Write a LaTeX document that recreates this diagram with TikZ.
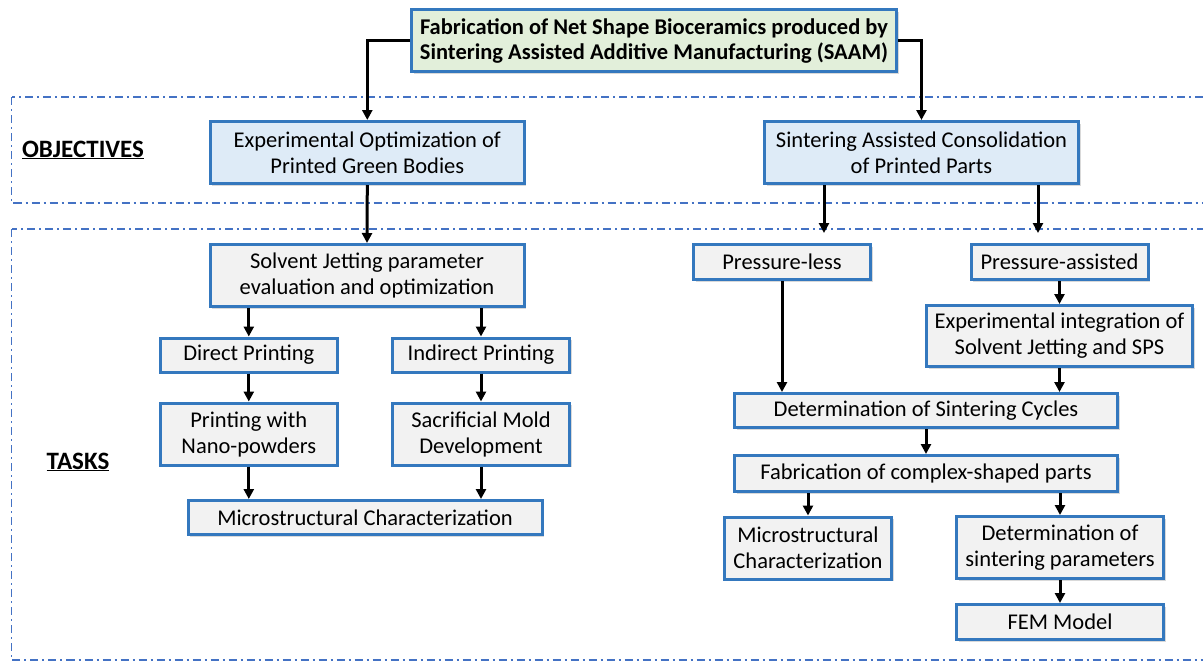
\documentclass[tikz,border=0pt]{standalone}
\usepackage{fontspec}
\setmainfont{Carlito}
\usetikzlibrary{arrows.meta,shadows}
\definecolor{boxblue}{RGB}{52,120,190}
\definecolor{taskgray}{RGB}{242,242,242}
\definecolor{objblue}{RGB}{222,235,247}
\definecolor{goalgreen}{RGB}{226,239,218}
\definecolor{dashblue}{RGB}{68,114,196}
\begin{document}
\begin{tikzpicture}[x=1pt, y=-1pt, >={Stealth[length=10pt, width=10pt, inset=0pt]},
    every node/.style={font=\fontsize{22.5}{26}\selectfont, align=center, inner sep=0pt},
    taskbox/.style={draw=boxblue, line width=3pt, fill=taskgray,
        drop shadow={shadow xshift=2pt, shadow yshift=-2pt, opacity=0.3}},
    objbox/.style={taskbox, fill=objblue},
    goalbox/.style={taskbox, fill=goalgreen, font=\fontsize{22.5}{25}\selectfont\bfseries},
    region/.style={draw=dashblue, line width=1.5pt, dash pattern=on 8pt off 4pt on 2pt off 4pt},
    link/.style={->, line width=3pt}]
    \clip (0,0) rectangle (1203,662);

    % 1. 虚线分区与标题
    \draw[region] (11.5,97) rectangle (1230,203);
    \draw[region] (11.5,229) rectangle (1230,660);
    \node[font=\fontsize{25}{28}\selectfont\bfseries] (objlab) at (83,150) {\underline{OBJECTIVES}};
    \node[font=\fontsize{25}{28}\selectfont\bfseries] (tasklab) at (78,462) {\underline{TASKS}};

    % 2. 总目标与两个目标
    \node[goalbox, minimum width=485, minimum height=62] (goal) at (654,40.5)
        {Fabrication of Net Shape Bioceramics produced by\\Sintering Assisted Additive Manufacturing (SAAM)};
    \node[objbox, minimum width=314, minimum height=62] (obj1) at (367.3,152.5)
        {Experimental Optimization of\\Printed Green Bodies};
    \node[objbox, minimum width=314, minimum height=62] (obj2) at (921.5,152.5)
        {Sintering Assisted Consolidation\\of Printed Parts};

    % 3. 左侧任务
    \node[taskbox, minimum width=314, minimum height=62] (solv) at (367,275.5)
        {Solvent Jetting parameter\\evaluation and optimization};
    \node[taskbox, minimum width=177, minimum height=34] (direct) at (248.8,355) {Direct Printing};
    \node[taskbox, minimum width=177, minimum height=34] (indirect) at (481,355) {Indirect Printing};
    \node[taskbox, minimum width=177, minimum height=62] (nano) at (248.8,434) {Printing with\\Nano-powders};
    \node[taskbox, minimum width=177, minimum height=62] (mold) at (481,434) {Sacrificial Mold\\Development};
    \node[taskbox, minimum width=354, minimum height=34] (micL) at (365,517.5) {Microstructural Characterization};

    % 4. 右侧任务
    \node[taskbox, minimum width=177, minimum height=35] (pless) at (782,262) {Pressure-less};
    \node[taskbox, minimum width=177, minimum height=35] (passist) at (1059.5,262) {Pressure-assisted};
    \node[taskbox, minimum width=266, minimum height=61] (expint) at (1059.5,336)
        {Experimental integration of\\Solvent Jetting and SPS};
    \node[taskbox, minimum width=383, minimum height=34] (detcyc) at (926,410.5) {Determination of Sintering Cycles};
    \node[taskbox, minimum width=383, minimum height=36] (fab) at (926,473.5) {Fabrication of complex-shaped parts};
    \node[taskbox, minimum width=167, minimum height=62] (micR) at (808,548) {Microstructural\\Characterization};
    \node[taskbox, minimum width=207, minimum height=62] (detpar) at (1060,547.5) {Determination of\\sintering parameters};
    \node[taskbox, minimum width=207, minimum height=35] (fem) at (1060,622) {FEM Model};

    % 5. 箭头
    \coordinate (pl-tip) at (824,233);
    \coordinate (pa-tip) at (1038,233);
    \draw[link] (goal.west) -| (obj1.north);
    \draw[link] (goal.east) -| (obj2.north);
    \draw[link] (obj1.south) -- (solv.north);
    \draw[link] (solv.south -| direct) -- (direct.north);
    \draw[link] (solv.south -| indirect) -- (indirect.north);
    \draw[link] (direct.south) -- (nano.north);
    \draw[link] (indirect.south) -- (mold.north);
    \draw[link] (nano.south) -- (nano.south |- micL.north);
    \draw[link] (mold.south) -- (mold.south |- micL.north);
    \draw[link] (obj2.south -| pl-tip) -- (pl-tip);
    \draw[link] (obj2.south -| pa-tip) -- (pa-tip);
    \draw[link] (passist.south) -- (expint.north);
    \draw[link] (pless.south) -- (pless.south |- detcyc.north);
    \draw[link] (expint.south) -- (expint.south |- detcyc.north);
    \draw[link] (detcyc.south) -- (fab.north);
    \draw[link] (fab.south -| micR) -- (micR.north);
    \draw[link] (fab.south -| detpar) -- (detpar.north);
    \draw[link] (detpar.south) -- (fem.north);
\end{tikzpicture}
\end{document}
